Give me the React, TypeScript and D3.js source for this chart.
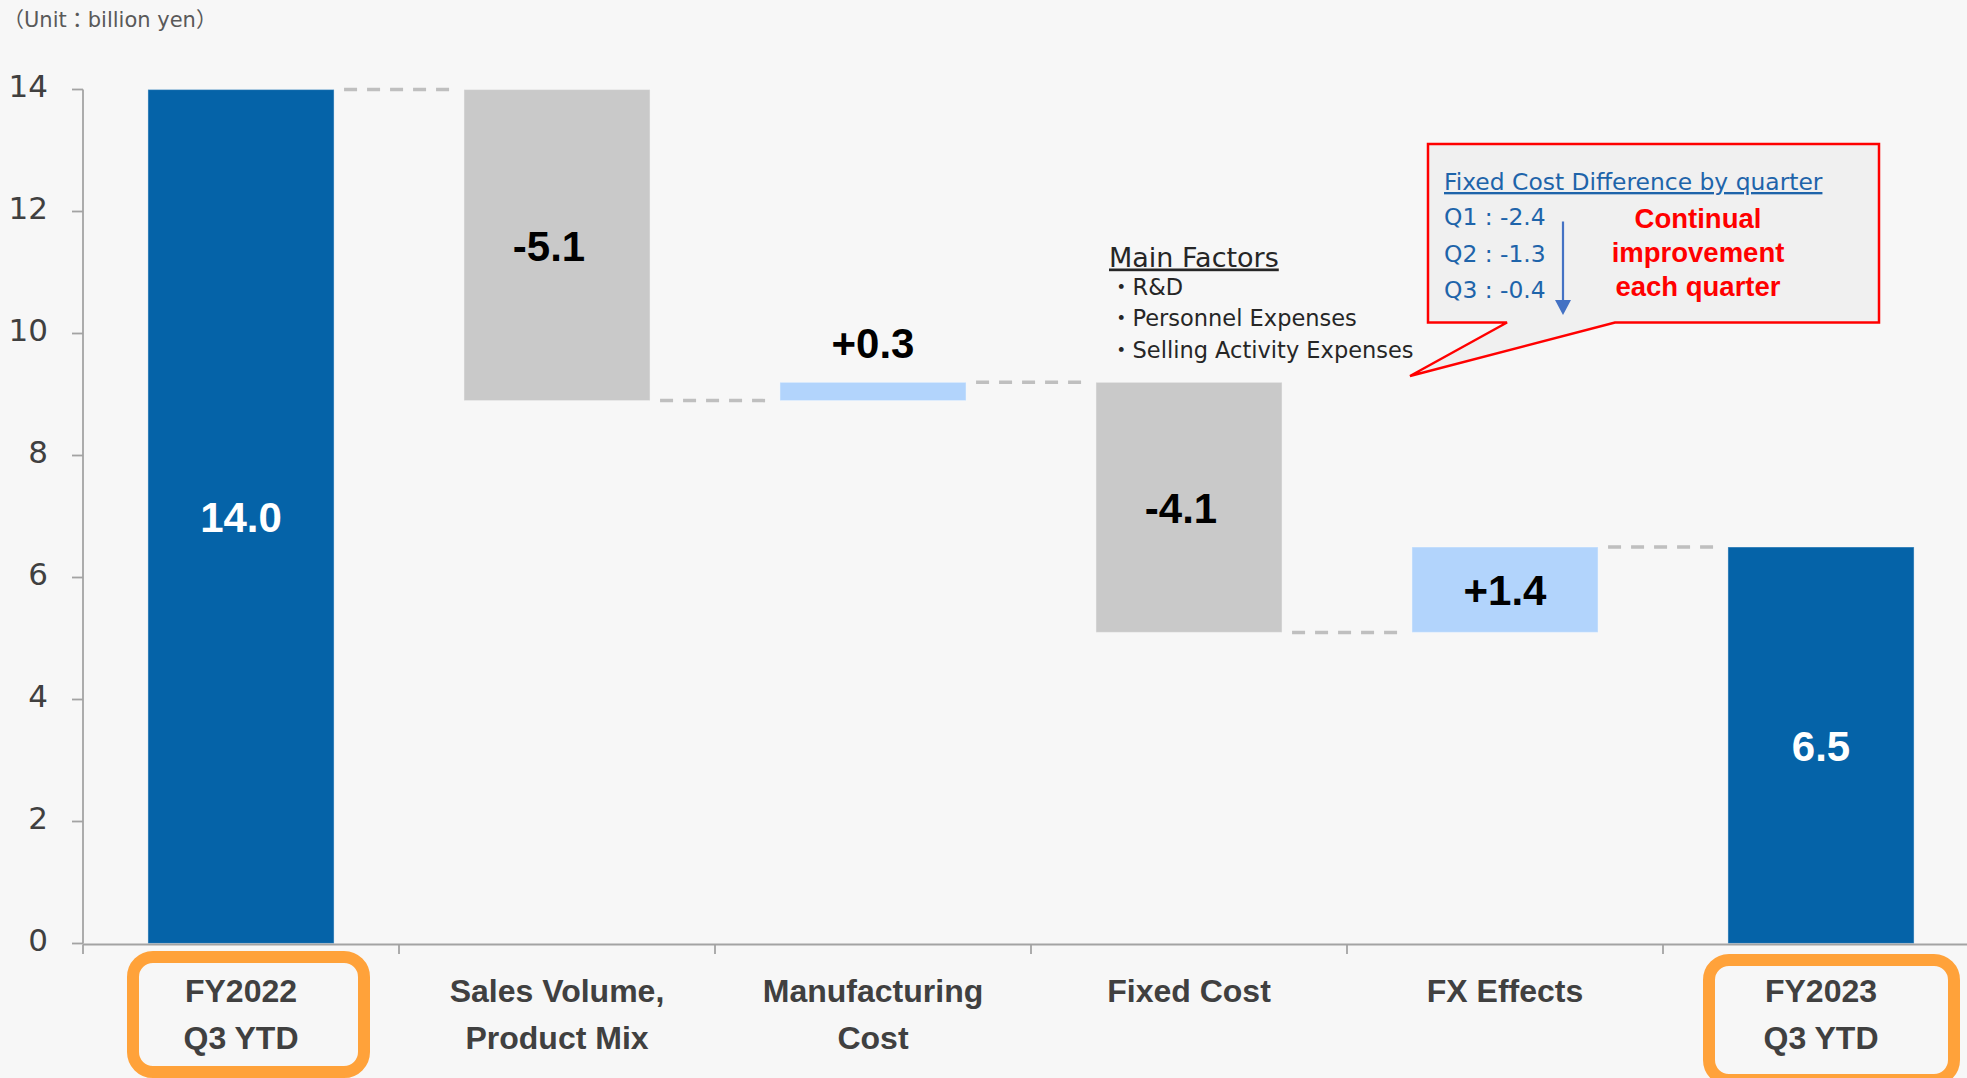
import React from "react";
import * as d3 from "d3";

// ---------- data ----------
const categoryLines: string[][] = [
  ["FY2022", "Q3 YTD"],
  ["Sales Volume,", "Product Mix"],
  ["Manufacturing", "Cost"],
  ["Fixed Cost"],
  ["FX Effects"],
  ["FY2023", "Q3 YTD"],
];
const values: number[] = [14.0, -5.1, 0.3, -4.1, 1.4, 6.5];
const kinds: string[] = ["total", "delta", "delta", "delta", "delta", "total"];
const valueLabels: string[] = ["14.0", "-5.1", "+0.3", "-4.1", "+1.4", "6.5"];
const yTicks: number[] = [0, 2, 4, 6, 8, 10, 12, 14];
const highlighted: number[] = [0, 5];

const unitLabel = "（Unit：billion yen）";
const factorsTitle = "Main Factors";
const factorsItems: string[] = ["・R&D", "・Personnel Expenses", "・Selling Activity Expenses"];
const calloutTitle = "Fixed Cost Difference by quarter";
const quarterLines: string[] = ["Q1 : -2.4", "Q2 : -1.3", "Q3 : -0.4"];
const improvementLines: string[] = ["Continual", "improvement", "each quarter"];

// ---------- layout ----------
const W = 1967;
const H = 1078;
const BG = "#F7F7F7";
const DARK_BLUE = "#0563A8";
const LIGHT_BLUE = "#B2D4FC";
const GRAY = "#C9C9C9";
const AXIS = "#A3A3A3";
const TEXT = "#404040";

export default function App() {
  const x = d3
    .scaleBand<number>()
    .domain(d3.range(categoryLines.length))
    .range([83, 1979])
    .paddingInner(0.411)
    .paddingOuter(0.2055);
  const y = d3.scaleLinear().domain([0, 14]).range([943.5, 89.5]);

  // waterfall computation
  let running = 0;
  const bars = values.map((v, i) => {
    let lo: number, hi: number;
    if (kinds[i] === "total") {
      lo = 0;
      hi = v;
      running = v;
    } else {
      const start = running;
      running = start + v;
      lo = Math.min(start, running);
      hi = Math.max(start, running);
    }
    return { i, v, lo, hi, end: running, kind: kinds[i] };
  });

  const step = x.step();
  const bw = x.bandwidth();
  const bandStart = (i: number) => (x(i) as number) - (step - bw) / 2;
  const center = (i: number) => (x(i) as number) + bw / 2;

  const fillFor = (b: any) =>
    b.kind === "total" ? DARK_BLUE : b.v < 0 ? GRAY : LIGHT_BLUE;

  const boxGeom = [
    { dx0: -108, dx1: 123, y0: 957, y1: 1072 },
    { dx0: -112, dx1: 133, y0: 960, y1: 1080 },
  ];

  return (
    <div style={{ position: "absolute", left: 0, top: 0, width: W, height: H, overflow: "hidden" }}>
      <svg width={W} height={H} style={{ display: "block", background: BG }}>
        <rect x={0} y={0} width={W} height={H} fill={BG} />

        {/* unit label */}
        <text
          x={3}
          y={27}
          fontFamily="'DejaVu Sans', 'Noto Sans CJK JP', sans-serif"
          fontSize={21}
          fill="#595959"
        >
          {unitLabel}
        </text>

        {/* y axis */}
        <line x1={83} x2={83} y1={y(14)} y2={y(0)} stroke={AXIS} strokeWidth={1.8} />
        {yTicks.map((t) => (
          <g key={t}>
            <line x1={72} x2={83} y1={y(t)} y2={y(t)} stroke={AXIS} strokeWidth={1.8} />
            <text
              x={48}
              y={y(t) + 7.5}
              textAnchor="end"
              fontFamily="'DejaVu Sans', sans-serif"
              fontSize={31}
              fill={TEXT}
            >
              {t}
            </text>
          </g>
        ))}

        {/* connectors */}
        {bars.slice(0, -1).map((b, i) => {
          const x1 = (x(i) as number) + bw + 10;
          const x2 = (x(i + 1) as number) - 9;
          const yy = y(b.end);
          return (
            <line
              key={"c" + i}
              x1={x1}
              x2={x2}
              y1={yy}
              y2={yy}
              stroke="#BFBFBF"
              strokeWidth={3.5}
              strokeDasharray="13 10"
            />
          );
        })}

        {/* bars */}
        {bars.map((b) => (
          <rect
            key={"b" + b.i}
            x={x(b.i)}
            y={y(b.hi)}
            width={bw}
            height={y(b.lo) - y(b.hi)}
            fill={fillFor(b)}
            stroke="rgba(255,255,255,0.35)"
            strokeWidth={1.2}
          />
        ))}

        {/* value labels */}
        {bars.map((b) => {
          const small = y(b.lo) - y(b.hi) < 50;
          const yy = small ? y(b.hi) - 24 : (y(b.lo) + y(b.hi)) / 2 + 15.5;
          const dx = b.v < 0 ? -8 : 0;
          return (
            <text
              key={"l" + b.i}
              x={center(b.i) + dx}
              y={yy}
              textAnchor="middle"
              fontFamily="'Liberation Sans', Arial, sans-serif"
              fontWeight="bold"
              fontSize={42}
              fill={b.kind === "total" ? "#FFFFFF" : "#000000"}
            >
              {valueLabels[b.i]}
            </text>
          );
        })}

        {/* x axis */}
        <line x1={83} x2={W} y1={944.5} y2={944.5} stroke={AXIS} strokeWidth={2.2} />
        {d3.range(categoryLines.length + 1).map((i) => {
          const xx = i < categoryLines.length ? bandStart(i) : bandStart(i - 1) + step;
          return (
            <line key={"xt" + i} x1={xx} x2={xx} y1={944.5} y2={954} stroke={AXIS} strokeWidth={1.8} />
          );
        })}

        {/* highlight boxes */}
        {highlighted.map((ci, k) => {
          const g = boxGeom[k];
          const cx = center(ci);
          return (
            <rect
              key={"hb" + ci}
              x={cx + g.dx0}
              y={g.y0}
              width={g.dx1 - g.dx0}
              height={g.y1 - g.y0}
              rx={20}
              ry={20}
              fill="none"
              stroke="#FFA23A"
              strokeWidth={12}
            />
          );
        })}

        {/* category labels */}
        {categoryLines.map((lines, i) => (
          <text
            key={"cat" + i}
            textAnchor="middle"
            fontFamily="'Liberation Sans', Arial, sans-serif"
            fontWeight="bold"
            fontSize={32}
            fill={TEXT}
          >
            {lines.map((ln, j) => (
              <tspan key={j} x={center(i)} y={1001.5 + j * 47.5}>
                {ln}
              </tspan>
            ))}
          </text>
        ))}

        {/* main factors annotation */}
        <g fontFamily="'DejaVu Sans', 'Noto Sans CJK JP', sans-serif" fill="#262626">
          <text x={1109} y={266.5} fontSize={27} style={{ textDecoration: "underline" }}>
            {factorsTitle}
          </text>
          {factorsItems.map((t, i) => (
            <text key={t} x={1110} y={295 + i * 31.3} fontSize={22.5}>
              {t}
            </text>
          ))}
        </g>

        {/* callout */}
        <path
          d="M1428,144 H1879 V322.5 H1615 L1410,376 L1507,322.5 H1428 Z"
          fill="#F0F0F0"
          stroke="#FF0000"
          strokeWidth={2.5}
          strokeLinejoin="miter"
        />
        <g fontFamily="'DejaVu Sans', sans-serif" fill="#1E64AA" fontSize={23.4}>
          <text x={1444} y={190} style={{ textDecoration: "underline" }}>
            {calloutTitle}
          </text>
          {quarterLines.map((t, i) => (
            <text key={t} x={1444} y={225 + i * 36.5}>
              {t}
            </text>
          ))}
        </g>
        <line x1={1563} x2={1563} y1={221.5} y2={302} stroke="#4472C4" strokeWidth={2.2} />
        <path d="M1555,300 L1571,300 L1563,315 Z" fill="#4472C4" />
        <g
          fontFamily="'Liberation Sans', Arial, sans-serif"
          fontWeight="bold"
          fontSize={27.5}
          fill="#FF0000"
          textAnchor="middle"
        >
          {improvementLines.map((t, i) => (
            <text key={t} x={1698} y={227.5 + i * 34}>
              {t}
            </text>
          ))}
        </g>
      </svg>
    </div>
  );
}
